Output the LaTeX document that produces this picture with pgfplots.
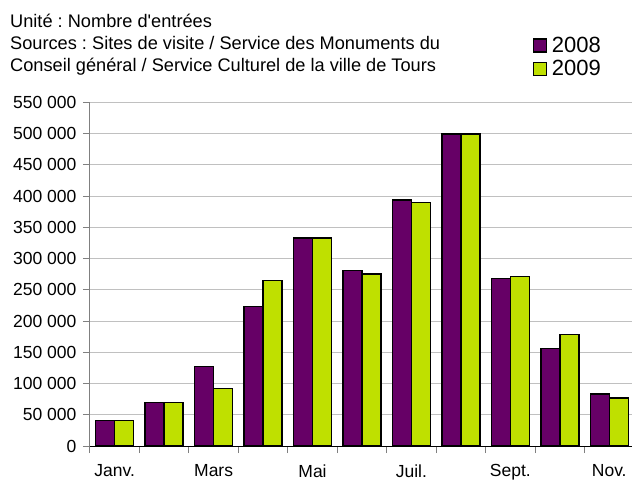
\documentclass[border=0pt]{standalone}
\usepackage{fontspec}
\setmainfont{Liberation Sans}
\newfontfamily\plainfont{Liberation Sans}
\usepackage{pgfplots}
\pgfplotsset{compat=1.18}
\definecolor{violet08}{HTML}{660066}
\definecolor{lime09}{HTML}{BFE000}
\definecolor{gridgray}{HTML}{C0C0C0}
\definecolor{axgray}{HTML}{808080}
\pgfplotstableread{
x y2008 y2009
0 41000 41000
1 70000 70000
2 127500 92300
3 223500 265000
4 333000 333000
5 281000 275000
6 393500 390000
7 499000 499000
8 268500 271500
9 156500 178500
10 83000 76500
}\visits
\begin{document}
\frenchspacing
\begin{tikzpicture}
\useasboundingbox (-90pt,-34pt) rectangle (542pt,446pt);
\node[anchor=base west,inner sep=0pt,font=\plainfont\fontsize{18.2}{21}\selectfont] at (-80pt,418.7pt) {Unité : Nombre d'entrées};
\node[anchor=base west,inner sep=0pt,font=\plainfont\fontsize{18.2}{21}\selectfont] at (-80pt,396.7pt) {Sources : Sites de visite / Service des Monuments du};
\node[anchor=base west,inner sep=0pt,font=\plainfont\fontsize{18.2}{21}\selectfont] at (-80pt,374.3pt) {Conseil général / Service Culturel de la ville de Tours};
\begin{axis}[
  at={(0pt,0pt)}, anchor=south west,
  scale only axis, width=542pt, height=343.7pt,
  ybar=0pt, bar width=19pt,
  xmin=-0.5, xmax=10.46, ymin=0, ymax=550000,
  axis x line*=bottom, axis y line*=left,
  x axis line style={-, black, line width=1pt},
  y axis line style={-, axgray, line width=1pt},
  xtick={-0.5,0.5,...,10.5}, xticklabels={},
  extra x ticks={0,2,4,6,8,10},
  extra x tick labels={Janv.,Mars,Mai,Juil.,Sept.,Nov.},
  extra x tick style={major tick length=0pt, grid=none, tick label style={yshift=-15pt}},
  scaled y ticks=false,
  ytick={0,50000,100000,150000,200000,250000,300000,350000,400000,450000,500000,550000},
  yticklabels={0,50 000,100 000,150 000,200 000,250 000,300 000,350 000,400 000,450 000,500 000,550 000},
  yticklabel style={xshift=-3pt},
  ymajorgrids, grid style={gridgray, line width=0.9pt},
  tick align=outside, major tick length=7pt,
  tick style={axgray, line width=1pt},
  xtick pos=bottom, ytick pos=left,
  tick label style={font=\fontsize{17.5}{20}\selectfont},
  legend style={at={(rel axis cs:0.817,1.193)}, anchor=north west, draw=none, fill=none,
    font=\fontsize{22}{25}\selectfont, row sep=4.5pt, inner sep=0pt,
    nodes={inner xsep=4.5pt, inner ysep=1pt, anchor=west}},
  legend cell align=left,
]
\addplot[fill=violet08, draw=black, line width=1.4pt,
  legend image code/.code={\draw[fill=violet08,draw=black,line width=1.3pt] (0pt,-6.5pt) rectangle (13pt,6.5pt);}]
  table[x=x,y=y2008]{\visits};
\addplot[fill=lime09, draw=black, line width=1.4pt,
  legend image code/.code={\draw[fill=lime09,draw=black,line width=1.3pt] (0pt,-6.5pt) rectangle (13pt,6.5pt);}]
  table[x=x,y=y2009]{\visits};
\legend{2008,2009}
\end{axis}
\end{tikzpicture}
\end{document}
